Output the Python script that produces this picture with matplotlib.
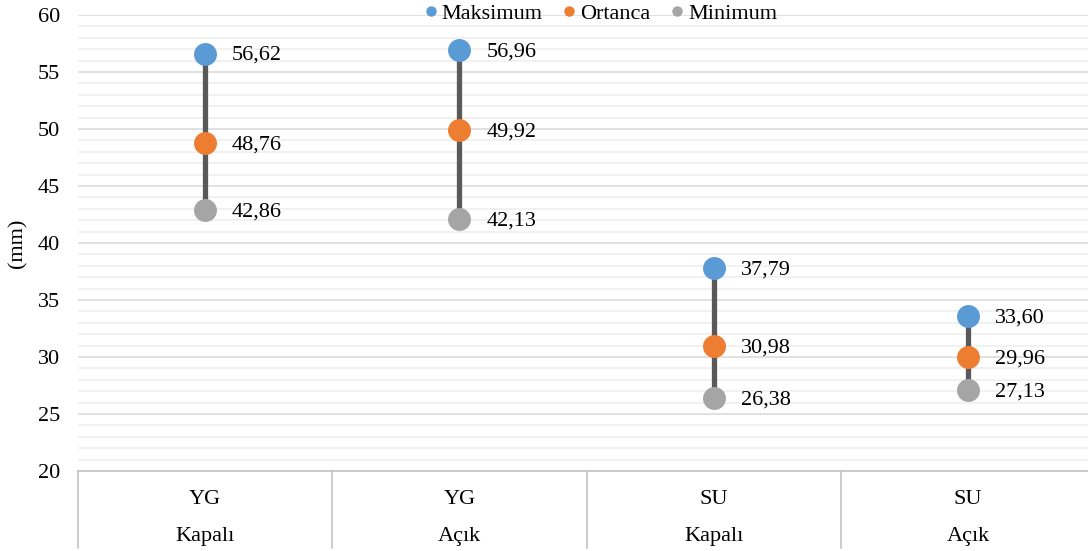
import matplotlib
matplotlib.use("Agg")
import matplotlib.pyplot as plt
from matplotlib.lines import Line2D
from matplotlib.ticker import MultipleLocator
import matplotlib.transforms as mtransforms

plt.rcParams['font.family'] = ['Liberation Serif', 'DejaVu Serif']

# Data
groups = ["YG", "YG", "SU", "SU"]
conditions = ["Kapalı", "Açık", "Kapalı", "Açık"]
maksimum = [56.62, 56.96, 37.79, 33.60]
ortanca = [48.76, 49.92, 30.98, 29.96]
minimum = [42.86, 42.13, 26.38, 27.13]

c_max = "#5B9BD5"
c_med = "#ED7D31"
c_min = "#A5A5A5"
c_stem = "#595959"

W, H = 1088, 551
fig = plt.figure(figsize=(W / 100, H / 100), dpi=100)
ax = fig.add_axes([78 / W, 80 / H, 1017 / W, 456 / H])

x = list(range(len(groups)))
ax.set_xlim(-0.5, len(groups) - 0.5)
ax.set_ylim(20, 60)

# Stems
ax.vlines(x, minimum, maksimum, color=c_stem, linewidth=3.8, zorder=3)

ms = 15.5
ax.plot(x, maksimum, 'o', color=c_max, markersize=ms, zorder=4, label="Maksimum")
ax.plot(x, ortanca, 'o', color=c_med, markersize=ms, zorder=4, label="Ortanca")
ax.plot(x, minimum, 'o', color=c_min, markersize=ms, zorder=4, label="Minimum")

# Value labels
offset = mtransforms.offset_copy(ax.transData, fig=fig, x=27, y=-2, units='dots')
for series in (maksimum, ortanca, minimum):
    for xi, v in zip(x, series):
        ax.text(xi, v, f"{v:.2f}".replace(".", ","), transform=offset,
                ha='left', va='center', fontsize=16, color="#000000", zorder=5)

# Grid
ax.yaxis.set_major_locator(MultipleLocator(5))
ax.yaxis.set_minor_locator(MultipleLocator(1))
ax.grid(which='minor', axis='y', color="#EDEDED", linewidth=1.1, zorder=0)
ax.grid(which='major', axis='y', color="#D9D9D9", linewidth=1.1, zorder=1)
ax.set_axisbelow(True)

for s in ('top', 'right', 'left'):
    ax.spines[s].set_visible(False)
ax.spines['bottom'].set_color("#BFBFBF")
ax.spines['bottom'].set_linewidth(1.1)

ax.tick_params(axis='y', which='both', length=0, labelsize=16, pad=13, colors="#000000")
ax.tick_params(axis='x', which='both', length=0, labelbottom=False)
ax.set_ylabel("(mm)", fontsize=16, labelpad=7)

# Two-level category axis
bt = mtransforms.blended_transform_factory(ax.transData, ax.transAxes)
bottom_ax = -77 / 456
for b in [i - 0.5 for i in range(len(groups) + 1)]:
    ax.add_line(Line2D([b, b], [0, bottom_ax], transform=bt, color="#BFBFBF",
                       linewidth=1.1, clip_on=False))
for xi, g, c in zip(x, groups, conditions):
    ax.text(xi, -28 / 456, g, transform=bt, ha='center', va='center', fontsize=16)
    ax.text(xi, -66 / 456, c, transform=bt, ha='center', va='center', fontsize=16)

# Legend
handles = [Line2D([], [], marker='o', linestyle='none', color=c, markersize=6.5)
           for c in (c_max, c_med, c_min)]
fig.legend(handles, ["Maksimum", "Ortanca", "Minimum"], loc='center',
           bbox_to_anchor=(599 / W, 1 - 14 / H), ncol=3, frameon=False,
           fontsize=16, handletextpad=0.05, columnspacing=0.75, handlelength=0.9,
           borderaxespad=0)

fig.savefig("out.png", dpi=100)
